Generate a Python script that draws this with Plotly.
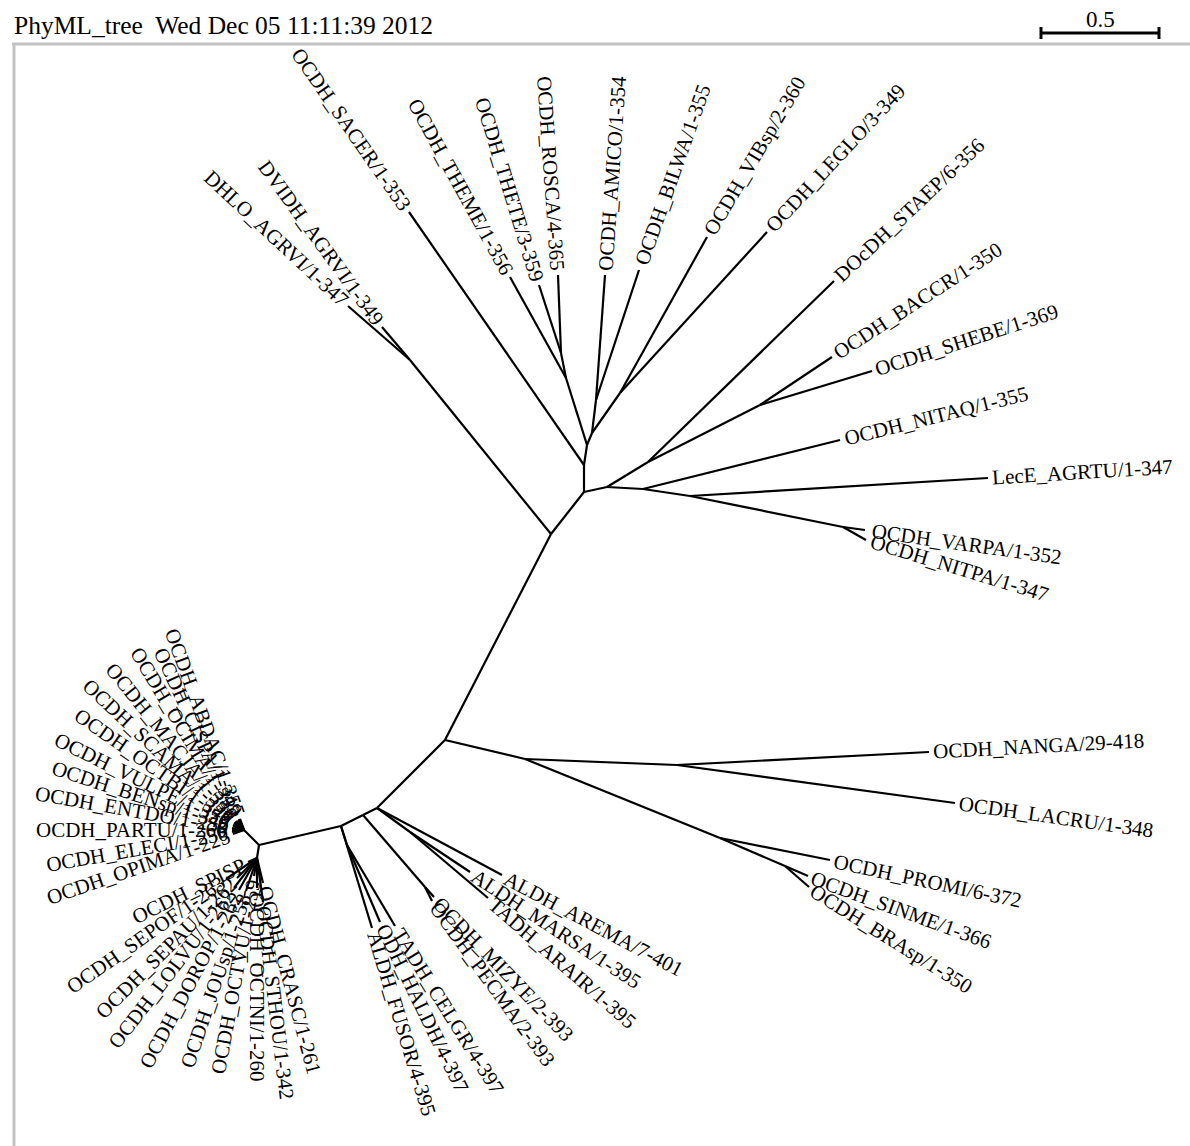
import math
import plotly.graph_objects as go

# ---------------- data ----------------
TITLE = "PhyML_tree\u00a0 Wed Dec 05 11:11:39 2012"
SCALE_VALUE = 0.5          # length shown by the scale bar (subst./site)
PX_PER_UNIT = 236.0        # layout units per subst./site

# internal nodes of the unrooted layout (layout units, y downwards)
NODE_IDS = ["B1", "U0", "H1", "H2", "H3", "H4", "H5", "H7", "T2", "T1", "DD", "H6", "D", "BS",
            "E", "E2", "VN", "N1", "NL", "PSB", "SB", "B2", "MA", "B3", "MP", "L1", "L2", "B4",
            "LC", "LL"]
NODE_X = [445, 551, 584, 584, 587, 592, 596, 620, 566, 561, 410, 607, 648, 760,
          643, 690, 843, 525, 677, 720, 785, 377, 410, 363, 425, 341, 347, 259,
          244, 257]
NODE_Y = [740, 534, 492, 465, 445, 433, 400, 393, 378, 353, 360, 487, 462, 405,
          489, 496, 527, 759, 765, 838, 866, 808, 832, 815, 887, 826, 845, 845,
          830, 858]
NODE_PARENT = [None, "B1", "U0", "H1", "H2", "H3", "H4", "H4", "H3", "T2", "U0", "H1", "H6", "D",
               "H6", "E", "E2", "B1", "N1", "N1", "PSB", "B1", "B2", "B2", "B3", "B3", "L1", "L1",
               "B4", "B4"]

# leaves: label, tip position, parent node, label direction (degrees, y downwards)
LEAF_LABELS = [
    "DHLO_AGRVI/1-347", "DVIDH_AGRVI/1-349", "OCDH_SACER/1-353", "OCDH_THEME/1-356",
    "OCDH_THETE/3-359", "OCDH_ROSCA/4-365", "OCDH_AMICO/1-354", "OCDH_BILWA/1-355",
    "OCDH_VIBsp/2-360", "OCDH_LEGLO/3-349", "DOcDH_STAEP/6-356", "OCDH_BACCR/1-350",
    "OCDH_SHEBE/1-369", "OCDH_NITAQ/1-355", "LecE_AGRTU/1-347", "OCDH_VARPA/1-352",
    "OCDH_NITPA/1-347",
    "OCDH_NANGA/29-418", "OCDH_LACRU/1-348", "OCDH_PROMI/6-372", "OCDH_SINME/1-366",
    "OCDH_BRAsp/1-350",
    "ALDH_AREMA/7-401", "ALDH_MARSA/1-395", "TADH_ARAIR/1-395", "OCDH_MIZYE/2-393",
    "OCDH_PECMA/2-393", "TADH_CELGR/4-397", "ODH_HALDH/4-397", "ALDH_FUSOR/4-395",
    "OCDH_ABDAC/1-355", "OCDH_CISPA/1-349", "OCDH_OCIMA/1-352", "OCDH_MACJA/1-350",
    "OCDH_SCAMA/1-351", "OCDH_OCTBI/1-349", "OCDH_VULPE/1-350", "OCDH_BENsp/1-348",
    "OCDH_ENTDO/1-250", "OCDH_PARTU/1-266", "OCDH_ELECI/1-250", "OCDH_OPIMA/1-225",
    "OCDH_SPISP", "OCDH_SEPOF/1-263", "OCDH_SEPAU/1-262", "OCDH_LOLVU/1-262",
    "OCDH_DOROP/1-262", "OCDH_JOUsp/1-258", "OCDH_OCTVU/1-259", "OCDH_OCTNI/1-260",
    "OCDH_STHOU/1-342", "OCDH_CRASC/1-261",
]
LEAF_X = [348, 382, 409, 510, 539, 558, 605, 639, 707, 767, 834, 832, 872, 840, 988, 865, 866,
          929, 955, 830, 808, 809,
          502, 470, 488, 434, 432, 395, 380, 372,
          240, 239, 238, 236, 235, 234, 233, 233, 232, 232, 232, 233,
          248, 226, 237, 234, 239, 246, 254, 257, 263, 263]
LEAF_Y = [306, 327, 212, 277, 285, 275, 275, 270, 237, 232, 281, 357, 371, 440, 478, 530, 540,
          752, 803, 860, 876, 887,
          875, 872, 898, 897, 901, 926, 922, 928,
          819, 819, 820, 821, 822, 823, 825, 826, 828, 830, 832, 834,
          862, 879, 878, 888, 890, 891, 876, 888, 902, 883]
LEAF_PARENT = ["DD", "DD", "H2", "T2", "T1", "T1", "H5", "H5", "H7", "H7", "D", "BS", "BS", "E",
               "E2", "VN", "VN",
               "NL", "NL", "PSB", "SB", "SB",
               "B2", "MA", "MA", "MP", "MP", "L2", "L2", "L1"] + ["LC"] * 12 + ["LL"] * 10
LEAF_ANGLE = [-137, -126, -124.8, -118.7, -107, -94, -86, -70.5, -59.5, -47, -43.5, -33, -18,
              -14, -3.5, 8, 17,
              -3, 8, 12, 20, 32,
              28, 33.5, 41, 46, 54, 58, 64, 73,
              -110, -115, -121, -129, -137, -145, -154, -162, -170, 180, 170, 161,
              154, 145, 135, 127.5, 118, 108.6, 100.4, 90, 83, 75]

# ---------------- styling ----------------
W, H = 1190, 1146
FONT = "Liberation Serif, Times New Roman, serif"
LABEL_SIZE = 21
GAP = 4

TNR = {
    'A': 722, 'B': 667, 'C': 667, 'D': 722, 'E': 611, 'F': 556, 'G': 722, 'H': 722, 'I': 333,
    'J': 389, 'K': 722, 'L': 611, 'M': 889, 'N': 722, 'O': 722, 'P': 556, 'Q': 722, 'R': 667,
    'S': 556, 'T': 611, 'U': 722, 'V': 722, 'W': 944, 'X': 722, 'Y': 722, 'Z': 611,
    'a': 444, 'b': 500, 'c': 444, 'd': 500, 'e': 444, 'f': 333, 'g': 500, 'h': 500, 'i': 278,
    'j': 278, 'k': 500, 'l': 278, 'm': 778, 'n': 500, 'o': 500, 'p': 500, 'q': 500, 'r': 333,
    's': 389, 't': 278, 'u': 500, 'v': 500, 'w': 722, 'x': 500, 'y': 500, 'z': 444,
    '_': 500, '/': 278, '-': 333, ' ': 250, '.': 250, ':': 278,
}


def text_width(s, size):
    return sum(TNR.get(ch, 500) for ch in s) * size / 1000.0


pos = {n: (x, y) for n, x, y in zip(NODE_IDS, NODE_X, NODE_Y)}

ex, ey = [], []
for n, par in zip(NODE_IDS, NODE_PARENT):
    if par is None:
        continue
    ex += [pos[par][0], pos[n][0], None]
    ey += [pos[par][1], pos[n][1], None]
for x, y, par in zip(LEAF_X, LEAF_Y, LEAF_PARENT):
    ex += [pos[par][0], x, None]
    ey += [pos[par][1], y, None]

fig = go.Figure()
fig.add_trace(go.Scatter(x=ex, y=ey, mode="lines", line=dict(color="black", width=2.2),
                         hoverinfo="skip", showlegend=False))

annotations = []
for lab, x, y, a in zip(LEAF_LABELS, LEAF_X, LEAF_Y, LEAF_ANGLE):
    r = math.radians(a)
    ux, uy = math.cos(r), math.sin(r)
    w = text_width(lab, LABEL_SIZE)
    cx = x + ux * (GAP + w / 2)
    cy = y + uy * (GAP + w / 2)
    if ux >= -1e-9:
        ta = a
    else:
        ta = a + 180 if a < 0 else a - 180
    annotations.append(dict(x=cx, y=cy, xref="x", yref="y", text=lab, showarrow=False,
                            textangle=ta, xanchor="center", yanchor="middle",
                            font=dict(family=FONT, size=LABEL_SIZE, color="black")))

# title
annotations.append(dict(x=12, y=25, xref="x", yref="y", text=TITLE, showarrow=False,
                        xanchor="left", yanchor="middle",
                        font=dict(family=FONT, size=25.5, color="black")))

# scale bar
sb_x1 = 1159
sb_x0 = sb_x1 - SCALE_VALUE * PX_PER_UNIT
sb_y = 33
shapes = [
    dict(type="line", x0=sb_x0, x1=sb_x1, y0=sb_y, y1=sb_y, xref="x", yref="y",
         line=dict(color="black", width=3)),
    dict(type="line", x0=sb_x0, x1=sb_x0, y0=sb_y - 6, y1=sb_y + 6, xref="x", yref="y",
         line=dict(color="black", width=3)),
    dict(type="line", x0=sb_x1, x1=sb_x1, y0=sb_y - 6, y1=sb_y + 6, xref="x", yref="y",
         line=dict(color="black", width=3)),
    # frame
    dict(type="line", x0=12, x1=W, y0=44, y1=44, xref="x", yref="y",
         line=dict(color="#c3c3c3", width=3)),
    dict(type="line", x0=14, x1=14, y0=44, y1=H, xref="x", yref="y",
         line=dict(color="#c3c3c3", width=3)),
]
annotations.append(dict(x=(sb_x0 + sb_x1) / 2, y=19, xref="x", yref="y", text=str(SCALE_VALUE),
                        showarrow=False, xanchor="center", yanchor="middle",
                        font=dict(family=FONT, size=23, color="black")))

fig.update_layout(
    width=W, height=H, autosize=False,
    margin=dict(l=0, r=0, t=0, b=0, pad=0),
    paper_bgcolor="white", plot_bgcolor="white",
    xaxis=dict(range=[0, W], visible=False, fixedrange=True),
    yaxis=dict(range=[H, 0], visible=False, fixedrange=True),
    annotations=annotations, shapes=shapes, showlegend=False,
)

fig.write_html("out.html", config={"displayModeBar": False},
               post_script="document.body.style.margin='0';document.body.style.overflow='hidden';")
